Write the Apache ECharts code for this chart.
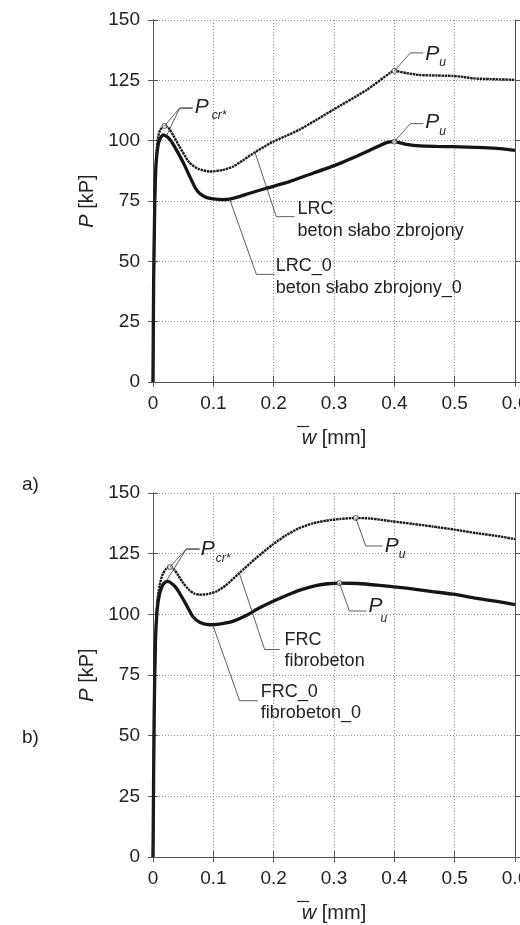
<!DOCTYPE html>
<html><head><meta charset="utf-8">
<script src="https://cdn.jsdelivr.net/npm/echarts@6/dist/echarts.min.js"></script>
<style>html,body{margin:0;padding:0;background:#fff}#c{width:520px;height:925px}</style>
</head><body><div id="c"></div>
<script>
// ---- data ----
const xTicks = [0, 0.1, 0.2, 0.3, 0.4, 0.5, 0.6];
const yTicks = [0, 25, 50, 75, 100, 125, 150];

const lrcX = [0,0.001,0.003,0.005,0.008,0.012,0.019,0.026,0.034,0.044,0.06,0.075,0.094,0.115,0.133,0.15,0.169,0.185,0.199,0.22,0.243,0.27,0.298,0.354,0.392,0.4,0.42,0.442,0.47,0.497,0.515,0.531,0.56,0.6];
const lrcY = [0,40,75,92,101,104.5,106.1,105.2,102,97.5,91,88.3,87.2,87.8,89.3,92,95.2,97.6,99.6,101.9,104.6,108.5,112.7,121,127.9,128.9,128,127.2,127,126.8,126.4,125.8,125.5,125.2];

const lrc0X = [0,0.001,0.003,0.005,0.008,0.012,0.017,0.024,0.031,0.039,0.05,0.061,0.07,0.077,0.088,0.1,0.115,0.127,0.143,0.16,0.188,0.221,0.265,0.31,0.354,0.387,0.4,0.42,0.442,0.47,0.497,0.547,0.58,0.6];
const lrc0Y = [0,40,75,90,97.5,101,102.4,101.5,99.5,96.1,91,85.1,80.5,78.2,76.5,75.9,75.6,75.8,76.8,78.2,80.3,82.6,86.5,90.6,95.4,99.2,99.6,98.5,97.8,97.6,97.5,97.1,96.6,96];

const frcX = [0,0.002,0.004,0.007,0.011,0.016,0.022,0.028,0.035,0.042,0.05,0.06,0.068,0.077,0.09,0.105,0.12,0.143,0.17,0.198,0.22,0.242,0.265,0.287,0.31,0.336,0.36,0.397,0.43,0.463,0.5,0.535,0.57,0.6];
const frcY = [0,60,90,105,112,116.5,118.8,119.5,118.5,116,112.9,110,108.6,108.1,108.3,109.4,111.8,117,123,128.7,132.5,135.5,137.5,138.6,139.3,139.7,139.5,138.3,137.3,136.2,134.9,133.5,132.3,131];

const frc0X = [0,0.002,0.004,0.007,0.011,0.016,0.021,0.025,0.032,0.038,0.044,0.055,0.066,0.078,0.094,0.11,0.132,0.155,0.176,0.2,0.231,0.25,0.27,0.29,0.309,0.34,0.38,0.42,0.463,0.5,0.535,0.57,0.6];
const frc0Y = [0,60,88,102,108.5,112,113.4,113.6,112.5,111,108.8,104,99.1,96.6,95.7,96,97.1,99.6,102.6,105.5,108.8,110.5,111.8,112.6,112.9,112.7,111.8,110.8,109.4,108.2,106.7,105.3,104];

// characteristic points (P_cr*, P_u)
const crTop = [[0.019, 106.1]];
const puTop = [[0.4, 128.9], [0.4, 99.6]];
const crBot = [[0.028, 119.5]];
const puBot = [[0.336, 139.7], [0.309, 112.9]];

// ---- chart ----
const FONT = "'Liberation Sans', Arial, sans-serif";
const AX = '#555';
const zip = (xs, ys) => xs.map((x, i) => [x, ys[i]]);

const chart = echarts.init(document.getElementById('c'), null, {renderer: 'canvas'});

const grids = [
  {left: 153, top: 20, width: 362, height: 362, outerBoundsMode: 'none', containLabel: false},
  {left: 153, top: 493, width: 362, height: 364, outerBoundsMode: 'none', containLabel: false}
];

const xAxes = [], yAxes = [];
grids.forEach((g, gi) => {
  const base = {type: 'value', gridIndex: gi, min: 0, max: 0.6, interval: 0.1,
    axisLine: {show: true, lineStyle: {color: AX, width: 1}},
    splitLine: {show: false}, axisLabel: {show: false}};
  xAxes.push(Object.assign({}, base, {
    position: 'bottom',
    axisTick: {show: true, inside: true, length: 6, lineStyle: {color: AX}},
    axisLabel: {show: true, margin: 12, fontSize: 19, fontFamily: FONT, color: '#222',
      formatter: v => (v === 0 ? '0' : v.toFixed(1))},
    splitLine: {show: true, lineStyle: {color: '#8a8a8a', type: [1, 2], width: 1}},
    name: '{i|w} [mm]', nameLocation: 'middle', nameGap: 46,
    nameTextStyle: {fontSize: 20, fontFamily: FONT, color: '#222',
      rich: {i: {fontSize: 20, fontStyle: 'italic', fontFamily: FONT, color: '#222'}}}
  }));
  xAxes.push(Object.assign({}, base, {position: 'top',
    axisTick: {show: true, inside: true, length: 5, lineStyle: {color: AX}}}));
  xAxes.push(Object.assign({}, base, {position: 'top',
    axisTick: {show: true, inside: false, length: 5, lineStyle: {color: AX}}}));

  const ybase = {type: 'value', gridIndex: gi, min: 0, max: 150, interval: 25,
    axisLine: {show: true, lineStyle: {color: AX, width: 1}},
    splitLine: {show: false}, axisLabel: {show: false}};
  yAxes.push(Object.assign({}, ybase, {
    position: 'left',
    axisTick: {show: true, inside: false, length: 5, lineStyle: {color: AX}},
    axisLabel: {show: true, margin: 13, fontSize: 19, fontFamily: FONT, color: '#222'},
    splitLine: {show: true, lineStyle: {color: '#8a8a8a', type: [1, 2], width: 1}},
    name: '{i|P} [kP]', nameLocation: 'middle', nameGap: 50, nameRotate: 90,
    nameTextStyle: {fontSize: 20, fontFamily: FONT, color: '#222',
      rich: {i: {fontSize: 20, fontStyle: 'italic', fontFamily: FONT, color: '#222'}}}
  }));
  yAxes.push(Object.assign({}, ybase, {position: 'left',
    axisTick: {show: true, inside: true, length: 5, lineStyle: {color: AX}}}));
  yAxes.push(Object.assign({}, ybase, {position: 'right',
    axisTick: {show: true, inside: true, length: 5, lineStyle: {color: AX}}}));
  yAxes.push(Object.assign({}, ybase, {position: 'right',
    axisTick: {show: true, inside: false, length: 5, lineStyle: {color: AX}}}));
});

const XI = [0, 3], YI = [0, 4];
function lineSeries(gi, xs, ys, thick) {
  return {type: 'line', xAxisIndex: XI[gi], yAxisIndex: YI[gi], data: zip(xs, ys),
    showSymbol: false, smooth: 0.2, silent: true, animation: false, clip: true,
    lineStyle: thick ? {color: '#151515', width: 3.3}
                     : {color: '#1c1c1c', width: 2.4, type: [2.5, 0.7]},
    z: thick ? 3 : 4};
}
function ptSeries(gi, pts) {
  return {type: 'scatter', xAxisIndex: XI[gi], yAxisIndex: YI[gi], data: pts,
    symbol: 'circle', symbolSize: 5, silent: true, animation: false, z: 6,
    itemStyle: {color: '#fff', borderColor: '#333', borderWidth: 1}};
}

chart.setOption({
  animation: false,
  grid: grids,
  xAxis: xAxes,
  yAxis: yAxes,
  series: [
    lineSeries(0, lrc0X, lrc0Y, true),
    lineSeries(0, lrcX, lrcY, false),
    lineSeries(1, frc0X, frc0Y, true),
    lineSeries(1, frcX, frcY, false),
    ptSeries(0, crTop.concat(puTop)),
    ptSeries(1, crBot.concat(puBot))
  ]
});

// ---- annotations (anchored to data coordinates) ----
const px = (gi, p) => chart.convertToPixel({xAxisIndex: XI[gi], yAxisIndex: YI[gi]}, p);
const G = [];
const LS = {stroke: '#333', lineWidth: 0.8, fill: null};
function poly(points) { G.push({type: 'polyline', shape: {points}, style: LS, z: 10, silent: true}); }
function txt(x, y, s, size, italic, align) {
  G.push({type: 'text', x, y, z: 11, silent: true, style: {text: s, x: 0, y: 0,
    font: (italic ? 'italic ' : '') + size + "px " + FONT, fill: '#222',
    align: align || 'left', verticalAlign: 'middle', textAlign: align || 'left', textVerticalAlign: 'middle'}});
}
function twoLine(gi, from, bend, end, dx, l1, dy1, l2, dy2) {
  const a = px(gi, from), b = px(gi, bend), c = px(gi, end);
  poly([a, b, c]);
  txt(c[0] + dx, c[1] + dy1, l1, 18);
  txt(c[0] + dx, c[1] + dy2, l2, 18);
}
function crLabel(gi, corner, end, targets, pOff, sOff) {
  const c = px(gi, corner), e = px(gi, end);
  targets.forEach(t => poly([px(gi, t), c, e]));
  txt(e[0] + pOff[0], e[1] + pOff[1], 'P', 21, true);
  txt(e[0] + sOff[0], e[1] + sOff[1], 'cr*', 12, true);
}
function puLabel(gi, m, bend, endDx, pOff, sOff) {
  const a = px(gi, m);
  const b = [a[0] + bend[0], a[1] + bend[1]];
  const c = [a[0] + endDx, a[1] + bend[1]];
  poly([a, b, c]);
  txt(a[0] + pOff[0], a[1] + pOff[1], 'P', 21, true);
  txt(a[0] + sOff[0], a[1] + sOff[1], 'u', 12, true);
}

// top chart
crLabel(0, [0.0442, 113.5], [0.0658, 113.5], [crTop[0], [0.022, 101.8]], [2, -1], [19, 8]);
puLabel(0, puTop[0], [16, -18], 29, [31, -17], [45, -8]);
puLabel(0, puTop[1], [16, -18], 29, [31, -19], [45, -10]);
twoLine(0, [0.169, 95.2], [0.2044, 68.5], [0.2347, 68.5], 3, 'LRC', -8, 'beton słabo zbrojony', 14);
twoLine(0, [0.127, 75.8], [0.1713, 44.6], [0.2016, 44.6], 1, 'LRC_0', -8, 'beton słabo zbrojony_0', 14);
// bottom chart
crLabel(1, [0.0553, 126.9], [0.0773, 126.9], [crBot[0], [0.02, 113]], [1, 0], [16, 10]);
puLabel(1, puBot[0], [10, 28], 27, [29, 28], [43, 37]);
puLabel(1, puBot[1], [10, 28], 27, [29, 23], [41, 36]);
twoLine(1, [0.143, 117], [0.185, 85.5], [0.2098, 85.5], 5, 'FRC', -9.5, 'fibrobeton', 11.5);
twoLine(1, [0.0993, 95.5], [0.1435, 64.4], [0.1738, 64.4], 3, 'FRC_0', -8.5, 'fibrobeton_0', 12.5);

// overline over "w" in the x-axis titles
[0, 1].forEach(gi => {
  const o = px(gi, [0.3, 0]);
  G.push({type: 'line', shape: {x1: o[0] - 37, y1: o[1] + 44.5, x2: o[0] - 25, y2: o[1] + 44.5},
    style: {stroke: '#222', lineWidth: 1.2}, z: 11, silent: true});
});
// panel labels
txt(22, 485, 'a)', 19);
txt(22, 738, 'b)', 19);

chart.setOption({graphic: G});
</script></body></html>
